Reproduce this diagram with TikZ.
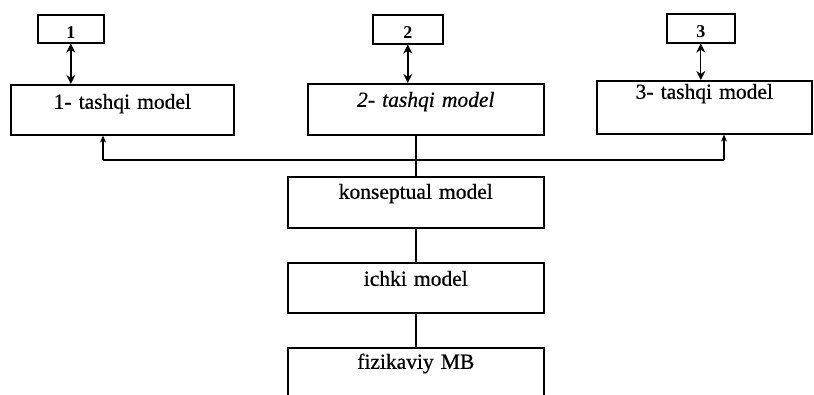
\documentclass[tikz,border=0pt]{standalone}
\usepackage{fontspec}
\setmainfont{Liberation Serif}
\newfontfamily\scanfont{Liberation Serif}[RawFeature={embolden=0.6}]
\usetikzlibrary{arrows.meta,calc}
\begin{document}
\begin{tikzpicture}[x=1pt,y=-1pt,
  line width=1.6pt,
  bx/.style n args={3}{draw, rectangle, anchor=north west, inner sep=0pt,
     text width=#1, text height=#3, text depth=#2-#3, align=center,
     font=\scanfont\fontsize{21.5}{24}\selectfont},
  numbox/.style n args={3}{bx={#1}{#2}{#3}, font=\fontsize{18}{20}\selectfont\bfseries},
  dbl/.style={{Stealth[length=9pt,width=9pt]}-{Stealth[length=9pt,width=9pt]}},
  up/.style={-{Stealth[length=7pt,width=6pt]}}]
\clip (0,0) rectangle (814,395);
% top number boxes
\node[numbox={66pt}{28pt}{24pt}] (n1) at (37,14) {1};
\node[numbox={70pt}{29pt}{24pt}] (n2) at (372,14) {2};
\node[numbox={68pt}{29pt}{24pt}] (n3) at (666,13) {3};
% external models
\node[bx={223pt}{50pt}{24pt}] (t1) at (10,84) {1- tashqi model};
\node[bx={236pt}{51pt}{23pt}, font=\scanfont\fontsize{21.5}{24}\selectfont\itshape] (t2) at (307,83) {2- tashqi model};
\node[bx={215pt}{53pt}{18pt}] (t3) at (596,80) {3- tashqi model};
% conceptual, internal, physical
\node[bx={256pt}{51pt}{22pt}] (k) at (287,176) {konseptual model};
\node[bx={256pt}{50pt}{23pt}] (i) at (287,262) {ichki model};
\node[bx={256pt}{70pt}{21pt}] (f) at (287,347) {fizikaviy MB};
% double arrows
\draw[dbl] (n1.south) -- (n1.south |- t1.north);
\draw[dbl] (n2.south) -- (n2.south |- t2.north);
\draw[dbl, line width=1pt] (n3.south) -- (n3.south |- t3.north);
% distribution line
\coordinate (jl) at (103,160);
\coordinate (jr) at (724,160);
\draw (jl) -- (jr);
\draw[up] (jl) -- (jl |- t1.south);
\draw[up] (jr) -- (jr |- t3.south);
\draw (k.north |- t2.south) -- (k.north);
\draw (k.south) -- (i.north);
\draw (i.south) -- (f.north);
\end{tikzpicture}
\end{document}
